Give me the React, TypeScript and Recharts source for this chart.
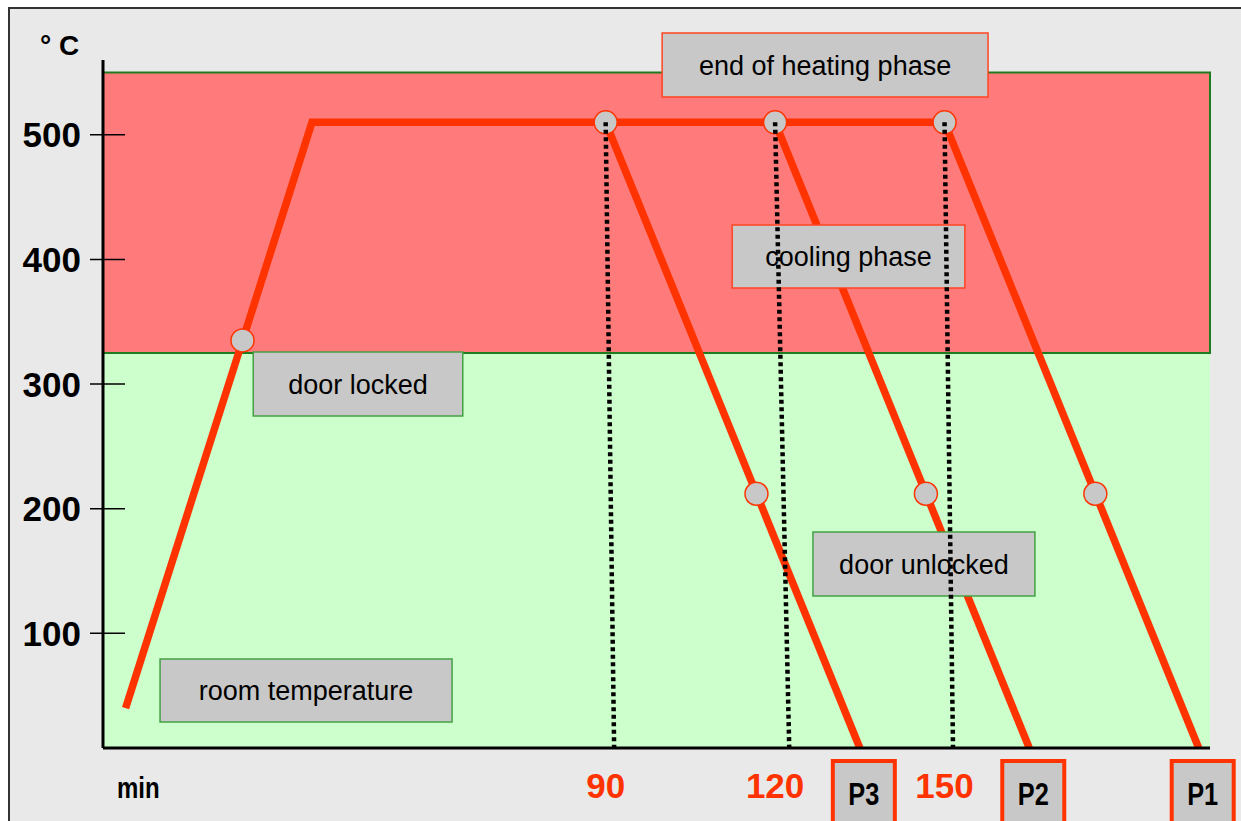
import React from 'react';
import { ComposedChart, Line, Scatter, XAxis, YAxis, ReferenceArea } from 'recharts';

// temperature curve of the cleaning cycle (min / °C)
const HEATING = [
  { min: 5, temp: 40 },
  { min: 38, temp: 510 },
  { min: 150, temp: 510 },
];
const PEAK_TEMP = 510;
const FLOOR_TEMP = 8;
const COOL_START = [90, 120, 150];
const COOL_END = [135, 165, 195];
const DOTTED_END = [91.5, 122.5, 151.5];
const PROGRAM_LABELS = ['P3', 'P2', 'P1'];

const MARKERS = [
  { min: 25.7, temp: 335 },
  { min: 90, temp: 510 },
  { min: 120, temp: 510 },
  { min: 150, temp: 510 },
  { min: 116.7, temp: 212 },
  { min: 146.7, temp: 212 },
  { min: 176.7, temp: 212 },
];

const Y_TICKS = [100, 200, 300, 400, 500];
const X_TICKS = [90, 120, 150];
const LOCK_TEMP = 325;
const ZONE_TOP = 550;

// annotation boxes, in chart units
const NOTES = [
  { text: 'end of heating phase', x1: 100, x2: 157.7, y1: 530.3, y2: 581.7, border: '#ff4422' },
  { text: 'cooling phase', x1: 112.4, x2: 153.6, y1: 377.1, y2: 427.6, border: '#ff4422' },
  { text: 'door locked', x1: 27.6, x2: 64.7, y1: 274.4, y2: 325.7, border: '#44a044' },
  { text: 'door unlocked', x1: 126.7, x2: 166, y1: 130, y2: 181.3, border: '#44a044' },
  { text: 'room temperature', x1: 11.1, x2: 62.8, y1: 28.9, y2: 79.4, border: '#44a044' },
];

const coolLines = COOL_START.map((s, i) => [
  { min: s, temp: PEAK_TEMP },
  { min: COOL_END[i], temp: FLOOR_TEMP },
]);
const dottedLines = COOL_START.map((s, i) => [
  { min: s, temp: PEAK_TEMP },
  { min: DOTTED_END[i], temp: FLOOR_TEMP },
]);

const RED = '#ff3300';
const SANS = "'Liberation Sans', Arial, sans-serif";

const YTick = (props: any) => {
  const { x, y, payload } = props;
  return (
    <g>
      <line x1={x - 13} x2={x + 22} y1={y} y2={y} stroke="#000" strokeWidth={1.5} />
      <text x={x - 22} y={y} textAnchor="end" dominantBaseline="central" fontFamily={SANS} fontWeight="bold" fontSize={35} fill="#000">
        {payload.value}
      </text>
    </g>
  );
};

const XTick = (props: any) => {
  const { x, y, payload } = props;
  const idx = COOL_END.indexOf(payload.value);
  if (idx >= 0) {
    return (
      <g>
        <rect x={x - 27} y={y + 13} width={62} height={80} fill="#c8c8c8" stroke={RED} strokeWidth={4} />
        <text
          x={x + 4}
          y={y + 46}
          textAnchor="middle"
          dominantBaseline="central"
          fontFamily={SANS}
          fontWeight="bold"
          fontSize={31}
          textLength={31}
          lengthAdjust="spacingAndGlyphs"
          fill="#000"
        >
          {PROGRAM_LABELS[idx]}
        </text>
      </g>
    );
  }
  return (
    <text x={x} y={y + 37} textAnchor="middle" dominantBaseline="central" fontFamily={SANS} fontWeight="bold" fontSize={35} fill={RED}>
      {payload.value}
    </text>
  );
};

const Marker = (props: any) => (
  <circle cx={props.cx} cy={props.cy} r={11.5} fill="#c8c8c8" stroke={RED} strokeWidth={1.5} />
);

export default function App() {
  return (
    <div style={{ position: 'fixed', left: 0, top: 0, width: 1241, height: 821, overflow: 'hidden', background: '#fff' }}>
      <div style={{ position: 'absolute', left: 8, top: 7, width: 1300, height: 900, background: '#e9e9e9', border: '2px solid #333' }} />
      <div style={{ position: 'absolute', left: 40, top: 30, fontFamily: SANS, fontWeight: 'bold', fontSize: 28, color: '#000' }}>° C</div>
      <div
        style={{
          position: 'absolute',
          left: 117,
          top: 771,
          fontFamily: SANS,
          fontWeight: 'bold',
          fontSize: 30,
          color: '#000',
          transform: 'scaleX(0.8)',
          transformOrigin: 'left top',
        }}
      >
        min
      </div>
      <div style={{ position: 'absolute', left: 0, top: 0 }}>
        <ComposedChart width={1241} height={821} margin={{ top: 60, right: 31, bottom: 0, left: 0 }}>
          <XAxis
            type="number"
            dataKey="min"
            domain={[1, 197]}
            allowDataOverflow
            ticks={[...X_TICKS, ...COOL_END]}
            tick={<XTick />}
            tickLine={false}
            tickSize={0}
            tickMargin={0}
            height={73}
            axisLine={{ stroke: '#000', strokeWidth: 3 }}
            interval={0}
          />
          <YAxis
            type="number"
            domain={[FLOOR_TEMP, 560]}
            allowDataOverflow
            ticks={Y_TICKS}
            tick={<YTick />}
            tickLine={false}
            tickSize={0}
            tickMargin={0}
            width={103}
            axisLine={{ stroke: '#000', strokeWidth: 3 }}
            interval={0}
          />
          <ReferenceArea x1={1} x2={197} y1={FLOOR_TEMP} y2={LOCK_TEMP} fill="#ccffcc" fillOpacity={1} stroke="none" zIndex={-50} />
          <ReferenceArea x1={1} x2={197} y1={LOCK_TEMP} y2={ZONE_TOP} fill="#ff7a7a" fillOpacity={1} stroke="#1e7b1e" strokeWidth={2} zIndex={-40} />
          <Line data={HEATING} dataKey="temp" stroke={RED} strokeWidth={7.5} dot={false} isAnimationActive={false} zIndex={400} />
          {coolLines.map((d, i) => (
            <Line key={`cool-${i}`} data={d} dataKey="temp" stroke={RED} strokeWidth={7.5} dot={false} isAnimationActive={false} zIndex={400} />
          ))}
          <Scatter data={MARKERS} dataKey="temp" shape={<Marker />} isAnimationActive={false} zIndex={600} />
          {NOTES.map((n) => (
            <ReferenceArea
              key={n.text}
              x1={n.x1}
              x2={n.x2}
              y1={n.y1}
              y2={n.y2}
              ifOverflow="visible"
              fill="#c8c8c8"
              fillOpacity={1}
              stroke={n.border}
              strokeWidth={1.5}
              zIndex={700}
              label={{ value: n.text, position: 'center', fontSize: 27, fill: '#000', fontFamily: SANS }}
            />
          ))}
          {dottedLines.map((d, i) => (
            <Line key={`dot-${i}`} data={d} dataKey="temp" stroke="#000" strokeWidth={4.5} strokeDasharray="4 3.5" dot={false} isAnimationActive={false} zIndex={800} />
          ))}
        </ComposedChart>
      </div>
    </div>
  );
}
